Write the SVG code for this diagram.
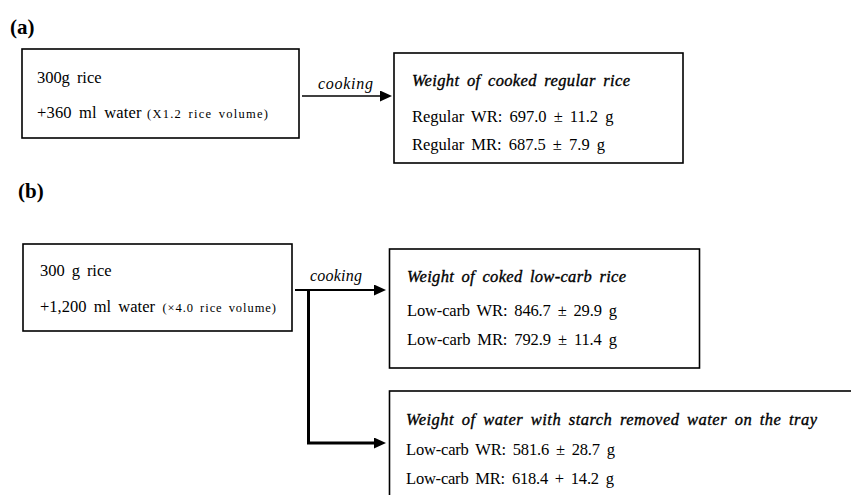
<svg xmlns="http://www.w3.org/2000/svg" width="851" height="495" viewBox="0 0 851 495">
<style>
.box{fill:#fff;stroke:#000;stroke-width:1.6}
.t{font-family:"Liberation Serif","Times New Roman",serif;font-size:16.5px;fill:#000;word-spacing:3px}
.i{font-style:italic;font-size:16px}
.h{font-style:italic;stroke:#000;stroke-width:0.35}
.s{font-size:12.5px;word-spacing:2px}
.lbl{font-family:"Liberation Serif","Times New Roman",serif;font-weight:bold;font-size:21px;fill:#000}
.conn{fill:none;stroke:#000}
</style>
<defs>
<marker id="ah" markerUnits="userSpaceOnUse" markerWidth="12" markerHeight="11" refX="4" refY="5.5" orient="auto">
<path d="M0,0 L12,5.5 L0,11 z" fill="#000"/>
</marker>
</defs>
<text class="lbl" x="10" y="34">(a)</text>
<text class="lbl" x="18" y="198">(b)</text>

<g id="a-input">
<rect class="box" x="22" y="49" width="277" height="89"/>
<text class="t" x="37" y="82.5" textLength="64.5" lengthAdjust="spacing">300g rice</text>
<text class="t" x="37" y="117.5" textLength="104.5" lengthAdjust="spacing">+360 ml water</text>
<text class="t s" x="147" y="117.5" textLength="121" lengthAdjust="spacing">(X1.2 rice volume)</text>
</g>

<g id="a-output">
<rect class="box" x="394" y="53" width="289" height="110"/>
<text class="t h" x="412" y="85.5" textLength="218" lengthAdjust="spacing">Weight of cooked regular rice</text>
<text class="t" x="412" y="121.5" textLength="201.5" lengthAdjust="spacing">Regular WR: 697.0 ± 11.2 g</text>
<text class="t" x="412" y="150" textLength="193" lengthAdjust="spacing">Regular MR: 687.5 ± 7.9 g</text>
</g>

<g id="b-input">
<rect class="box" x="23" y="244" width="269" height="87"/>
<text class="t" x="40" y="276" textLength="71.5" lengthAdjust="spacing">300 g rice</text>
<text class="t" x="40" y="311.5" textLength="115" lengthAdjust="spacing">+1,200 ml water</text>
<text class="t s" x="162.5" y="311.5" textLength="113.5" lengthAdjust="spacing">(×4.0 rice volume)</text>
</g>

<g id="b-rice">
<rect class="box" x="389.5" y="249" width="310" height="119"/>
<text class="t h" x="407" y="282" textLength="219" lengthAdjust="spacing">Weight of coked low-carb rice</text>
<text class="t" x="407" y="316" textLength="210" lengthAdjust="spacing">Low-carb WR: 846.7 ± 29.9 g</text>
<text class="t" x="407" y="344.5" textLength="210" lengthAdjust="spacing">Low-carb MR: 792.9 ± 11.4 g</text>
</g>

<g id="b-water">
<rect class="box" x="389.5" y="391" width="470" height="120"/>
<text class="t h" x="406" y="425" textLength="411" lengthAdjust="spacing">Weight of water with starch removed water on the tray</text>
<text class="t" x="406" y="455" textLength="209" lengthAdjust="spacing">Low-carb WR: 581.6 ± 28.7 g</text>
<text class="t" x="406" y="483.5" textLength="208" lengthAdjust="spacing">Low-carb MR: 618.4 + 14.2 g</text>
</g>

<g id="connectors">
<path class="conn" d="M302,96 H384" stroke-width="1.6" marker-end="url(#ah)"/>
<text class="t i" x="318" y="89" textLength="55" lengthAdjust="spacing">cooking</text>
<path class="conn" d="M295,290 H378" stroke-width="2" marker-end="url(#ah)"/>
<text class="t i" x="310" y="281" textLength="52" lengthAdjust="spacing">cooking</text>
<path class="conn" d="M308.5,289 V443 H378" stroke-width="3" marker-end="url(#ah)"/>
</g>
</svg>
